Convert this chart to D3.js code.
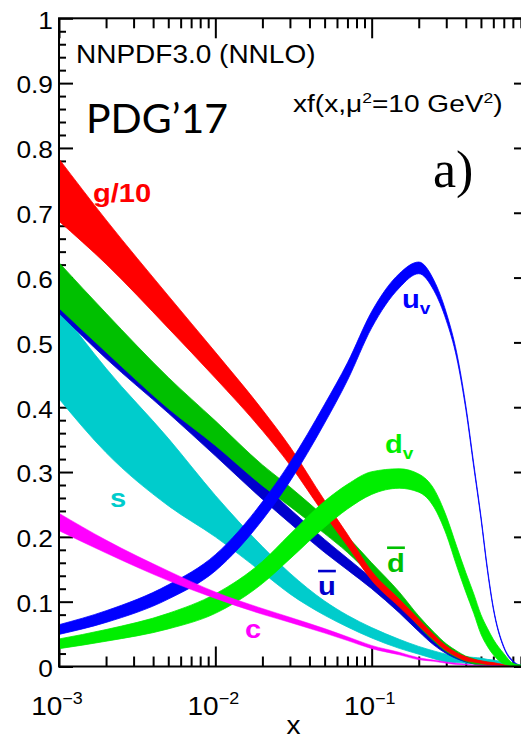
<!DOCTYPE html>
<html>
<head>
<meta charset="utf-8">
<script src="https://cdn.jsdelivr.net/npm/d3@7"></script>
<style>
  html, body { margin: 0; padding: 0; background: #fff; }
  svg { display: block; }
</style>
</head>
<body>
<svg id="chart" width="521" height="740"></svg>
<script>
// Momentum fractions at which every band is sampled
const xGrid = [0.001, 0.002, 0.005, 0.01, 0.02, 0.03, 0.05, 0.07, 0.1, 0.15, 0.2, 0.25,
               0.3, 0.35, 0.4, 0.45, 0.5, 0.55, 0.6, 0.7, 0.8, 0.9, 1.0];

// x f(x, mu^2 = 10 GeV^2): central value and half-width of each band
const gluonC = [0.735, 0.655, 0.547, 0.465, 0.38, 0.325, 0.245, 0.195, 0.14, 0.098, 0.068, 0.045,
                0.028, 0.018, 0.012, 0.009, 0.007, 0.005, 0.004, 0.002, 0.001, 0.0003, 0];
const gluonE = [0.048, 0.034, 0.025, 0.02, 0.016, 0.014, 0.011, 0.009, 0.007, 0.006, 0.005, 0.004,
                0.0035, 0.003, 0.003, 0.002, 0.002, 0.002, 0.002, 0.001, 0.001, 0.0005, 0];

const uvC = [0.057, 0.077, 0.115, 0.16, 0.24, 0.30, 0.39, 0.455, 0.535, 0.595, 0.615, 0.588,
             0.54, 0.48, 0.40, 0.31, 0.23, 0.15, 0.09, 0.03, 0.008, 0.001, 0];
const uvE = [0.0075, 0.009, 0.011, 0.0125, 0.014, 0.0145, 0.0145, 0.0135, 0.0125, 0.011, 0.009, 0.008,
             0.006, 0.004, 0.003, 0.0025, 0.002, 0.002, 0.0015, 0.001, 0.001, 0.0005, 0];

const dvC = [0.035, 0.048, 0.07, 0.097, 0.145, 0.185, 0.235, 0.262, 0.283, 0.29, 0.283, 0.26,
             0.218, 0.17, 0.13, 0.097, 0.065, 0.045, 0.03, 0.012, 0.003, 0.001, 0];
const dvE = [0.0075, 0.009, 0.012, 0.015, 0.017, 0.019, 0.02, 0.019, 0.0175, 0.015, 0.014, 0.014,
             0.014, 0.015, 0.015, 0.015, 0.015, 0.014, 0.012, 0.008, 0.002, 0.001, 0];

const dbarC = [0.588, 0.515, 0.422, 0.36, 0.295, 0.262, 0.218, 0.188, 0.15, 0.106, 0.07, 0.046,
               0.029, 0.019, 0.012, 0.008, 0.005, 0.004, 0.003, 0.001, 0.0005, 0, 0];
const dbarE = [0.035, 0.03, 0.024, 0.019, 0.016, 0.015, 0.013, 0.012, 0.01, 0.009, 0.008, 0.007,
               0.006, 0.005, 0.004, 0.004, 0.003, 0.003, 0.002, 0.001, 0.0005, 0, 0];

const ubarC = [0.575, 0.5, 0.41, 0.34, 0.27, 0.232, 0.186, 0.158, 0.128, 0.09, 0.06, 0.038,
               0.024, 0.015, 0.01, 0.006, 0.004, 0.003, 0.002, 0.001, 0, 0, 0];
const ubarE = [0.03, 0.025, 0.019, 0.015, 0.012, 0.011, 0.01, 0.009, 0.008, 0.007, 0.006, 0.005,
               0.004, 0.003, 0.003, 0.002, 0.002, 0.0015, 0.001, 0.0005, 0, 0, 0];

const sC = [0.483, 0.395, 0.3, 0.232, 0.165, 0.128, 0.09, 0.07, 0.052, 0.035, 0.025, 0.018,
            0.013, 0.011, 0.01, 0.009, 0.008, 0.007, 0.006, 0.004, 0.002, 0.001, 0];
const sE = [0.07, 0.065, 0.052, 0.032, 0.02, 0.016, 0.011, 0.009, 0.008, 0.007, 0.006, 0.006,
            0.006, 0.005, 0.005, 0.005, 0.005, 0.004, 0.004, 0.003, 0.002, 0.001, 0];

const cC = [0.223, 0.185, 0.14, 0.11, 0.085, 0.072, 0.055, 0.043, 0.03, 0.02, 0.012, 0.009,
            0.006, 0.004, 0.003, 0.002, 0.002, 0.001, 0.001, 0.0005, 0, 0, 0];
const cE = [0.0135, 0.01, 0.0075, 0.005, 0.0045, 0.004, 0.0035, 0.003, 0.0025, 0.002, 0.0015, 0.001,
            0.001, 0.001, 0.0005, 0.0005, 0.0005, 0.0005, 0.0005, 0.0003, 0, 0, 0];

// Axis ticks and their labels
const yMajorTicks = [0, 0.1, 0.2, 0.3, 0.4, 0.5, 0.6, 0.7, 0.8, 0.9, 1];
const yTickLabels = ["0", "0.1", "0.2", "0.3", "0.4", "0.5", "0.6", "0.7", "0.8", "0.9", "1"];
const xMajorTicks = [1e-3, 1e-2, 1e-1, 1];
const xTickBase = ["10", "10", "10"];
const xTickExp = ["\u22123", "\u22122", "\u22121"];

const svg = d3.select("#chart");
const plot = { left: 59, right: 528, top: 18.3, bottom: 666.5 };

const x = d3.scaleLog().domain([1e-3, 1]).range([plot.left, plot.right]);
const y = d3.scaleLinear().domain([0, 1]).range([plot.bottom, plot.top]);

const helv = "'Liberation Sans', Arial, Helvetica, sans-serif";
const stretch = 1.12;

// ---- tick marks (drawn first so the bands sit over them) ----
const yMinor = d3.range(0, 51).map(i => i * 0.02).filter(v => Math.abs(v * 10 - Math.round(v * 10)) > 1e-6);
const xMinor = [];
[-3, -2, -1].forEach(p => { for (let k = 2; k <= 9; k++) xMinor.push(k * Math.pow(10, p)); });

function styleAxis(g) {
  g.select(".domain").remove();
  g.selectAll(".tick line").attr("stroke", "#000").attr("stroke-width", 2);
}

const yAxisL = svg.append("g").attr("transform", `translate(${plot.left},0)`)
  .call(d3.axisLeft(y).tickValues(yMajorTicks).tickSizeInner(-14).tickSizeOuter(0).tickPadding(6)
    .tickFormat((d, i) => yTickLabels[i]));
styleAxis(yAxisL);
yAxisL.selectAll(".tick text")
  .attr("font-family", helv).attr("font-size", 23.5).attr("fill", "#000")
  .attr("x", -6 / stretch).attr("dy", "0.42em")
  .attr("transform", `scale(${stretch},1)`);

svg.append("g").attr("transform", `translate(${plot.left},0)`)
  .call(d3.axisLeft(y).tickValues(yMinor).tickSizeInner(-7).tickSizeOuter(0).tickFormat(""))
  .call(styleAxis);

svg.append("g").attr("transform", `translate(${plot.right},0)`)
  .call(d3.axisRight(y).tickValues(yMajorTicks).tickSizeInner(-14).tickSizeOuter(0).tickFormat(""))
  .call(styleAxis);
svg.append("g").attr("transform", `translate(${plot.right},0)`)
  .call(d3.axisRight(y).tickValues(yMinor).tickSizeInner(-7).tickSizeOuter(0).tickFormat(""))
  .call(styleAxis);

svg.append("g").attr("transform", `translate(0,${plot.bottom})`)
  .call(d3.axisBottom(x).tickValues(xMajorTicks).tickSizeInner(-20).tickSizeOuter(0).tickFormat(""))
  .call(styleAxis);
svg.append("g").attr("transform", `translate(0,${plot.bottom})`)
  .call(d3.axisBottom(x).tickValues(xMinor).tickSizeInner(-10).tickSizeOuter(0).tickFormat(""))
  .call(styleAxis);

svg.append("g").attr("transform", `translate(0,${plot.top})`)
  .call(d3.axisTop(x).tickValues(xMajorTicks).tickSizeInner(-20).tickSizeOuter(0).tickFormat(""))
  .call(styleAxis);
svg.append("g").attr("transform", `translate(0,${plot.top})`)
  .call(d3.axisTop(x).tickValues(xMinor).tickSizeInner(-10).tickSizeOuter(0).tickFormat(""))
  .call(styleAxis);

// ---- x tick labels: 10^n ----
xTickBase.forEach((base, i) => {
  const t = svg.append("text")
    .attr("transform", `translate(${x(xMajorTicks[i]) - 2},715) scale(${stretch},1)`)
    .attr("text-anchor", "middle")
    .attr("font-family", helv).attr("font-size", 25).attr("fill", "#000");
  t.append("tspan").text(base);
  t.append("tspan").attr("dy", -11).attr("font-size", 16).text(xTickExp[i]);
});

svg.append("text")
  .attr("transform", `translate(${x(Math.sqrt(1e-3))},734) scale(${stretch},1)`)
  .attr("text-anchor", "middle")
  .attr("font-family", helv).attr("font-size", 25).attr("fill", "#000")
  .text("x");

// ---- PDF bands ----
svg.append("clipPath").attr("id", "plotClip")
  .append("rect")
  .attr("x", plot.left).attr("y", plot.top)
  .attr("width", plot.right - plot.left).attr("height", plot.bottom - plot.top);

const series = [
  { key: "s",    c: sC,     e: sE,     color: "#00cccc", edge: 0.8 },
  { key: "ubar", c: ubarC,  e: ubarE,  color: "#0000cc", edge: 0.8 },
  { key: "dbar", c: dbarC,  e: dbarE,  color: "#00c000", edge: 0.8 },
  { key: "g",    c: gluonC, e: gluonE, color: "#ff0000", edge: 0.8 },
  { key: "uv",   c: uvC,    e: uvE,    color: "#0000ff", edge: 0.8 },
  { key: "dv",   c: dvC,    e: dvE,    color: "#00ee00", edge: 0.8 },
  { key: "c",    c: cC,     e: cE,     color: "#ff00ff", edge: 0.5 }
];

const band = d3.area()
  .x(d => x(d.x))
  .y0(d => y(Math.max(0, d.c - d.e)))
  .y1(d => y(d.c + d.e))
  .curve(d3.curveMonotoneX);

const bands = svg.append("g").attr("clip-path", "url(#plotClip)");
series.forEach(s => {
  const pts = xGrid.map((xv, i) => ({ x: xv, c: s.c[i], e: s.e[i] }));
  bands.append("path")
    .datum(pts)
    .attr("d", band)
    .attr("fill", s.color)
    .attr("stroke", s.color)
    .attr("stroke-width", s.edge)
    .attr("stroke-linejoin", "round");
});

// ---- frame ----
svg.append("rect")
  .attr("x", plot.left).attr("y", plot.top)
  .attr("width", plot.right - plot.left).attr("height", plot.bottom - plot.top)
  .attr("fill", "none").attr("stroke", "#000").attr("stroke-width", 2);

// ---- parton labels ----
function label(xv, yv, color, main, sub, bar) {
  const t = svg.append("text")
    .attr("transform", `translate(${x(xv)},${y(yv)}) scale(${stretch},1)`)
    .attr("font-family", helv).attr("font-weight", "bold").attr("font-size", 26)
    .attr("fill", color);
  const m = t.append("tspan").text(main);
  if (bar) m.style("text-decoration", "overline");
  if (sub) t.append("tspan").attr("dy", 6).attr("font-size", 17).text(sub);
}
label(0.00165, 0.717, "#ff0000", "g/10");
label(0.1565, 0.553, "#0000ff", "u", "v");
label(0.1218, 0.329, "#00ee00", "d", "v");
label(0.00212, 0.246, "#00cccc", "s");
label(0.0454, 0.110, "#0000cc", "u", null, true);
label(0.1255, 0.146, "#00c000", "d", null, true);
label(0.0155, 0.044, "#ff00ff", "c");

// ---- annotations ----
svg.append("text")
  .attr("transform", `translate(76,63) scale(1.12,1)`)
  .attr("font-family", helv).attr("font-size", 25).attr("fill", "#000")
  .text("NNPDF3.0 (NNLO)");

svg.append("text")
  .attr("x", 86).attr("y", 133)
  .attr("font-family", "Lato, 'Open Sans', sans-serif").attr("font-size", 41).attr("fill", "#000")
  .text("PDG\u201917");

const q = svg.append("text")
  .attr("transform", `translate(293,112) scale(1.17,1)`)
  .attr("font-family", helv).attr("font-size", 24).attr("fill", "#000");
q.append("tspan").text("xf(x,\u03bc");
q.append("tspan").attr("dy", -9).attr("font-size", 15).text("2");
q.append("tspan").attr("dy", 9).text("=10 GeV");
q.append("tspan").attr("dy", -9).attr("font-size", 15).text("2");
q.append("tspan").attr("dy", 9).text(")");

svg.append("text")
  .attr("x", 433).attr("y", 187)
  .attr("font-family", "'Liberation Serif', 'Times New Roman', serif").attr("font-size", 52)
  .attr("fill", "#000")
  .text("a)");
</script>
</body>
</html>
